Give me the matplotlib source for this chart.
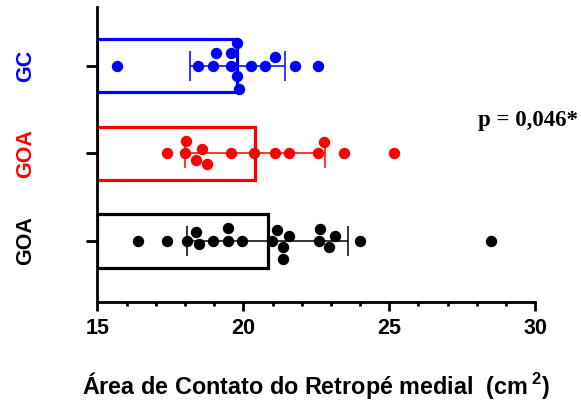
import numpy as np
import matplotlib
matplotlib.use("Agg")
import matplotlib.pyplot as plt
from matplotlib.ticker import MultipleLocator

plt.rcParams['font.family'] = 'Liberation Sans'
plt.rcParams['font.weight'] = 'bold'
plt.rcParams['mathtext.fontset'] = 'custom'
plt.rcParams['mathtext.rm'] = 'Liberation Sans:bold'
plt.rcParams['mathtext.bf'] = 'Liberation Sans:bold'

# Group data (cm2), bottom to top
groups = ['GOA', 'GOA', 'GC']
colors = ['#000000', '#FF0000', '#0000FF']
goa_black = [16.38, 17.37, 18.06, 18.37, 18.48, 18.97, 19.48, 19.48, 19.97, 20.99,
             21.17, 21.37, 21.56, 21.37, 22.58, 22.95, 22.64, 23.15, 23.99, 28.47]
goa_red = [17.37, 18.00, 18.05, 18.37, 18.77, 18.58, 19.57, 20.36, 21.07, 21.56,
           22.77, 22.56, 23.45, 25.15]
gc_blue = [15.67, 18.46, 18.96, 19.05, 19.57, 19.57, 19.80, 19.85, 19.80, 20.27,
           20.76, 21.07, 21.76, 22.55]
values = [goa_black, goa_red, gc_blue]
p_text = 'p = 0,046*'

DIAM = 12.5  # spacing between marker centres in the swarm, pixels


def swarm(xs_px, d):
    """Vertical offsets (px) so that no two markers overlap."""
    order = np.argsort(xs_px, kind='stable')
    placed = []
    offs = np.zeros(len(xs_px))
    for i in order:
        x = xs_px[i]
        cands = [0.0]
        for px, py in placed:
            dx = abs(x - px)
            if dx < d:
                h = np.sqrt(d * d - dx * dx)
                cands += [py + h, py - h]
        cands.sort(key=abs)
        for c in cands:
            if all((x - px) ** 2 + (c - py) ** 2 >= d * d - 1e-6 for px, py in placed):
                break
        placed.append((x, c))
        offs[i] = c
    return offs


fig = plt.figure(figsize=(5.81, 4.03), dpi=100)
ax = fig.add_axes([0.1675, 0.2506, 0.9213 - 0.1675, 0.9819 - 0.2506])
ax.set_xlim(15, 30)
ax.set_ylim(-0.696, 2.666)

px_x = ax.transData.transform([(16, 0)])[0][0] - ax.transData.transform([(15, 0)])[0][0]
px_y = ax.transData.transform([(0, 1)])[0][1] - ax.transData.transform([(0, 0)])[0][1]

for i, (vals, c) in enumerate(zip(values, colors)):
    v = np.array(vals)
    mean = v.mean()
    sd = v.std(ddof=1)
    ax.barh(i, mean - 15, left=15, height=0.61, facecolor='none',
            edgecolor=c, linewidth=2.3, zorder=2)
    ax.errorbar(mean, i, xerr=sd, fmt='none', ecolor=c, elinewidth=1.1,
                capsize=10.5, capthick=1.1, zorder=3)
    offs = swarm(v * px_x, DIAM) / px_y
    ax.plot(v, i + offs, 'o', color=c, markersize=8.2, markeredgewidth=0,
            zorder=4, clip_on=False)

ax.spines['top'].set_visible(False)
ax.spines['right'].set_visible(False)
for s in ('left', 'bottom'):
    ax.spines[s].set_linewidth(2.0)

ax.xaxis.set_major_locator(MultipleLocator(5))
ax.xaxis.set_minor_locator(MultipleLocator(1))
ax.tick_params(axis='x', which='major', length=6.5, width=2.0, pad=5, labelsize=15.5)
ax.tick_params(axis='x', which='minor', length=3.2, width=2.0)
ax.tick_params(axis='y', which='major', length=8, width=2.0, pad=36)

ax.set_yticks(range(len(groups)))
ax.set_yticklabels(groups, rotation=90, va='center', fontsize=15.5, fontweight='bold')
for lbl, c in zip(ax.get_yticklabels(), colors):
    lbl.set_color(c)

ax.set_xlabel('Área de Contato do Retropé medial  (cm$\\,^{\\mathbf{2}}$)', fontsize=16.8,
              fontweight='bold', labelpad=22)

fig.text(578 / 581, 1 - 126 / 403, p_text, ha='right', va='baseline',
         fontsize=16.5, fontweight='bold', family='Liberation Serif')

fig.savefig('out.png', dpi=100)
